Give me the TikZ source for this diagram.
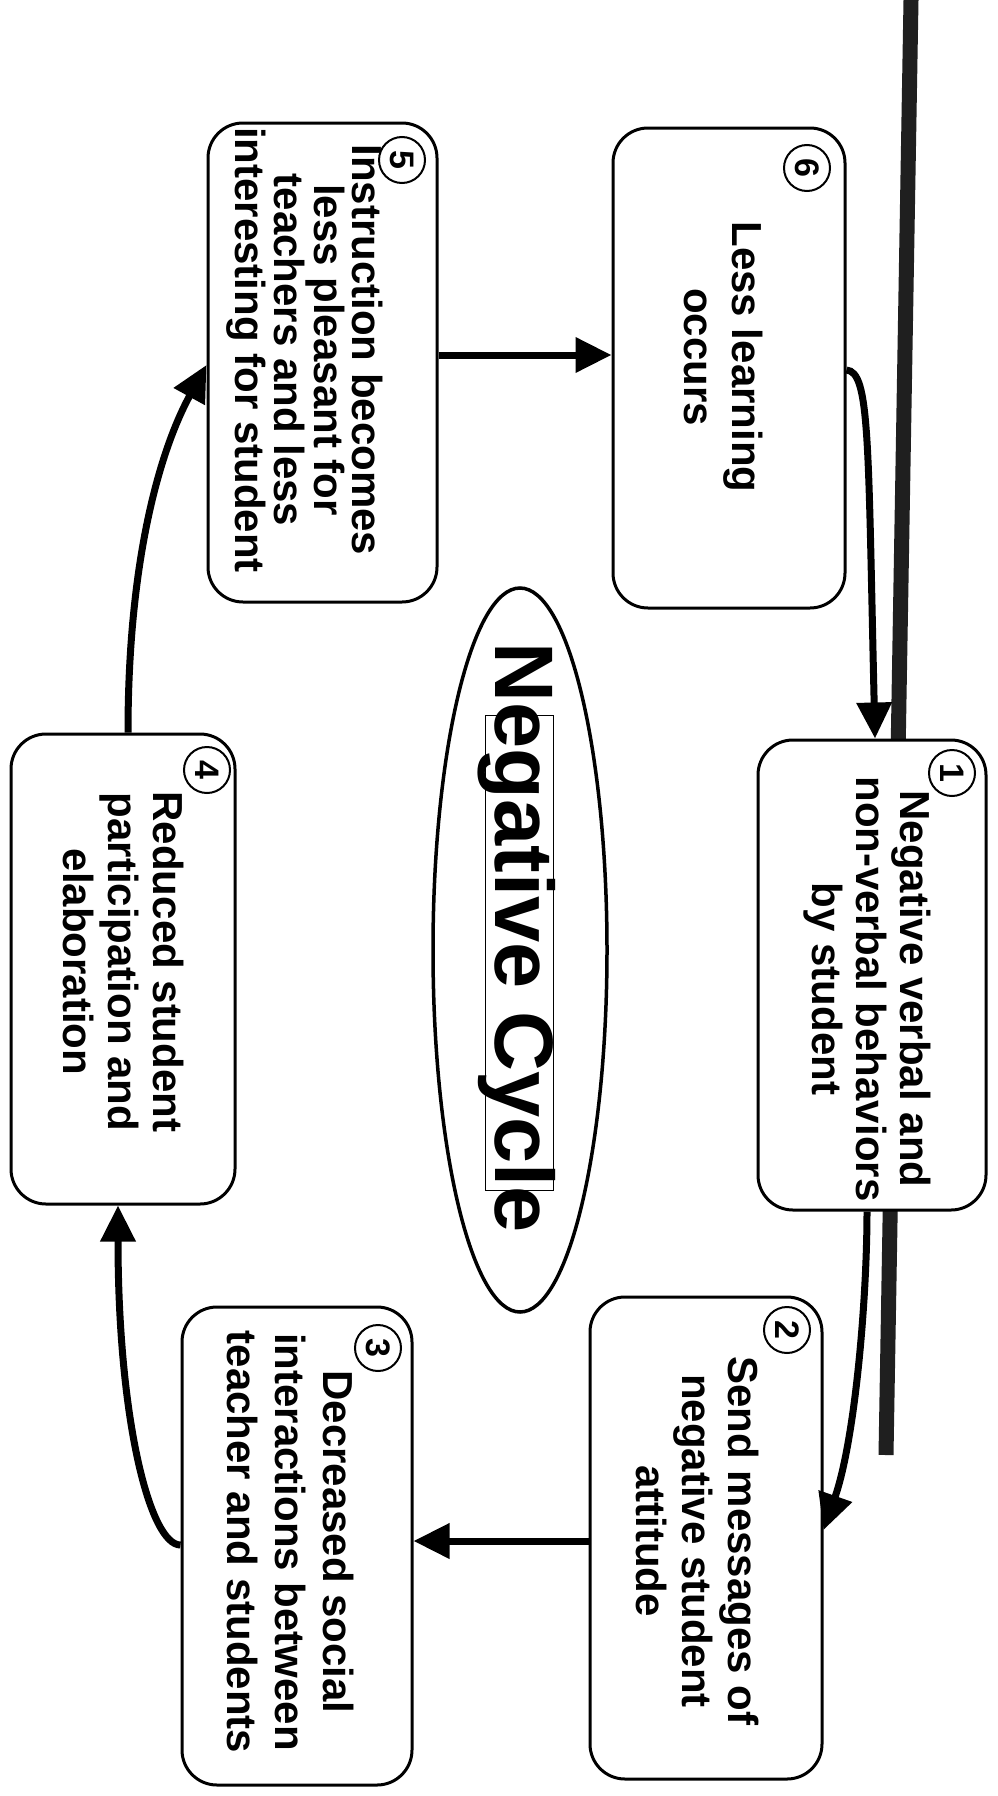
\documentclass[tikz,border=0pt]{standalone}
\usepackage{fontspec}
\setmainfont{Liberation Sans}
\usetikzlibrary{arrows.meta,shapes.geometric}
\tikzset{
  box/.style={draw, line width=3pt, rounded corners=35pt, inner sep=0pt, fill=white},
  txt/.style={rotate=-90, inner sep=0pt, align=center},
  numc/.style={draw, circle, line width=2pt, minimum size=46pt, inner sep=0pt,
    font=\bfseries\fontsize{34}{36}\selectfont},
  arr/.style={line width=7pt, -{Triangle[length=36pt,width=34pt]}},
  thickline/.style={line width=15pt, draw=black!88}
}
\newcommand{\boxfont}[1]{\bfseries\fontsize{42}{#1}\selectfont}
\begin{document}
\begin{tikzpicture}[x=1pt,y=1pt]
\fill[white] (0,0) rectangle (997,-1796);
\useasboundingbox (0,0) rectangle (997,-1796);

% thick vertical line
\coordinate (lt) at (911,0);
\coordinate (lb) at (886,-1455);
\draw[thickline] (lt) -- (lb);

% boxes
\node[box, minimum width=229pt, minimum height=479pt] (b5) at (322.5,-362.5) {};
\node[box, minimum width=232pt, minimum height=480pt] (b6) at (729,-368) {};
\node[box, minimum width=228pt, minimum height=470pt] (b1) at (872,-975) {};
\node[box, minimum width=224pt, minimum height=470pt] (b4) at (123,-969) {};
\node[box, minimum width=232pt, minimum height=482pt] (b2) at (706,-1538) {};
\node[box, minimum width=230pt, minimum height=478pt] (b3) at (297,-1546) {};

% texts
\node[txt, font=\boxfont{38.5}] (t5) at (305,-350) {Instruction becomes\\less pleasant for\\teachers and less\\interesting for student};
\node[txt, font=\boxfont{48}] (t6) at (724,-357) {Less learning\\occurs};
\node[txt, font=\boxfont{44}] (t1) at (867,-989) {Negative verbal and\\non-verbal behaviors\\by student};
\node[txt, font=\boxfont{45}] (t4) at (124,-962) {Reduced student\\participation and\\elaboration};
\node[txt, font=\boxfont{46}] (t2) at (698,-1541) {Send messages of\\negative student\\attitude};
\node[txt, font=\boxfont{48}] (t3) at (291,-1542) {Decreased social\\interactions between\\teacher and students};

% number circles
\node[numc] (n5) at (402,-160) {\rotatebox{-90}{5}};
\node[numc] (n6) at (807,-168) {\rotatebox{-90}{6}};
\node[numc] (n1) at (952,-773) {\rotatebox{-90}{1}};
\node[numc] (n4) at (207,-770) {\rotatebox{-90}{4}};
\node[numc] (n2) at (787,-1330) {\rotatebox{-90}{2}};
\node[numc] (n3) at (378,-1348) {\rotatebox{-90}{3}};

% centre ellipse and title
\node[draw, ellipse, line width=3.5pt, minimum width=174pt, minimum height=724pt, inner sep=0pt] (ell) at (520,-950) {};
\node[draw, line width=1pt, minimum width=68pt, minimum height=475pt, inner sep=0pt] (tb) at (519,-952.5) {};
\node[txt, font=\bfseries\fontsize{83}{90}\selectfont] (title) at (517,-938) {Negative Cycle};

% connectors
\draw[arr] (b5.east |- 0,-355) -- (b6.west |- 0,-355);
\draw[arr] (b6.east |- 0,-370) .. controls (870,-372) and (868,-440) .. (b1.north -| 875,0);
\draw[arr] (b1.south -| 867,0) .. controls (867,-1300) and (855,-1440) .. (b2.east |- 0,-1530);
\draw[arr] (b2.west |- 0,-1541) -- (b3.east |- 0,-1541);
\draw[arr] (b3.west |- 0,-1545) .. controls (150,-1545) and (118,-1420) .. (b4.south -| 118,0);
\draw[arr] (b4.north -| 128,0) .. controls (128,-560) and (160,-450) .. (b5.west |- 0,-365);
\end{tikzpicture}
\end{document}
